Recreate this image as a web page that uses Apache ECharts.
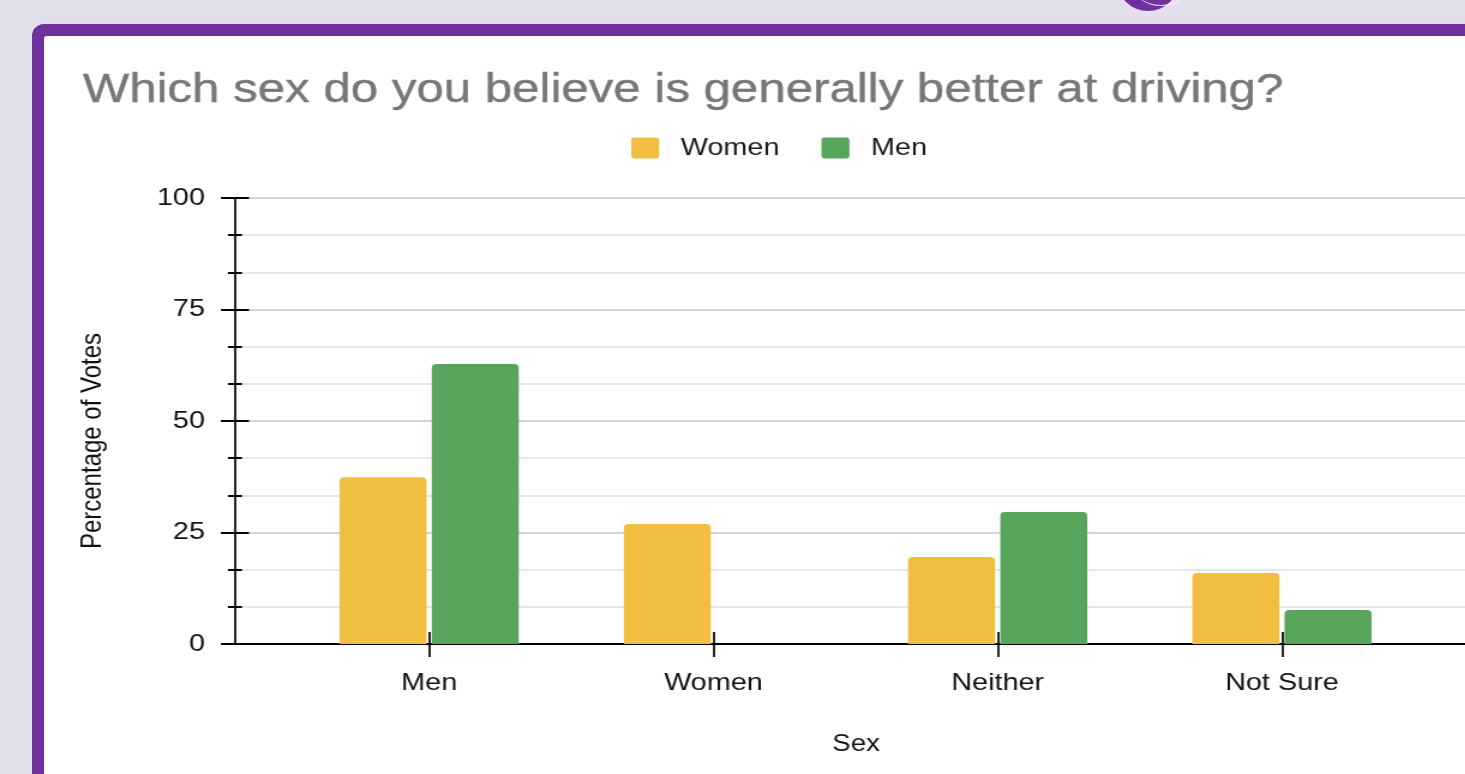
<!DOCTYPE html>
<html>
<head>
<meta charset="utf-8">
<style>
  html, body { margin: 0; padding: 0; background: #e4dfed; overflow: hidden; }
  body { position: relative; width: 1465px; height: 774px; }
  .card-border { position: absolute; left: 32px; top: 24px; width: 1500px; height: 800px;
                 background: #7030a0; border-top-left-radius: 12px; }
  .card { position: absolute; left: 44px; top: 36px; width: 1500px; height: 800px;
          background: #ffffff; border-top-left-radius: 3px; }
  .badge { position: absolute; left: 1117px; top: -51px; width: 62px; height: 62px;
           border-radius: 50%; background: #7030a0; }
  .badge::after { content: ''; position: absolute; left: 14px; top: 8px; width: 60px; height: 48px;
                  border-radius: 50%; border-bottom: 1px solid rgba(255,255,255,0.8); }
  /* chart is laid out narrower and widened horizontally, giving the wide lettering */
  #chart { position: absolute; left: 0; top: 0; width: 1221px; height: 774px;
           transform: scaleX(1.2); transform-origin: 0 0; }
</style>
<script src="https://cdn.jsdelivr.net/npm/echarts@6/dist/echarts.min.js"></script>
</head>
<body>
<div class="card-border"></div>
<div class="card"></div>
<div class="badge"></div>
<div id="chart"></div>
<script>
// Survey: which sex is better at driving, split by respondent sex (percent of votes)
const categories = ['Men', 'Women', 'Neither', 'Not Sure'];
const seriesNames = ['Women', 'Men'];
const womenVotes = [37.4, 26.9, 19.5, 15.9];
const menVotes = [62.8, 0, 29.6, 7.6];
const yTicks = [0, 25, 50, 75, 100];

const FONT = '"Liberation Sans", Arial, Helvetica, sans-serif';
const YELLOW = '#f1be42';
const GREEN = '#57a55a';
// legend swatch: square with slightly rounded corners
const SWATCH = 'path://M3,0H25Q28,0 28,3V22Q28,25 25,25H3Q0,25 0,22V3Q0,0 3,0Z';

const chart = echarts.init(document.getElementById('chart'), null, { renderer: 'canvas' });

const gridTop = 198, gridBottom = 130;
const vLine = 1.7;   // vertical strokes, widened by the stretch

chart.setOption({
  backgroundColor: 'transparent',
  animation: false,
  textStyle: { fontFamily: FONT },
  title: {
    text: 'Which sex do you believe is generally better at driving?',
    left: 64, top: 65,
    textStyle: { fontFamily: FONT, fontSize: 41, fontWeight: 'normal', color: '#777777',
                 textBorderColor: '#777777', textBorderWidth: 0.4 }
  },
  legend: {
    data: seriesNames,
    left: 521, top: 131,
    itemWidth: 23.3, itemHeight: 25, itemGap: 35,
    icon: SWATCH,
    textStyle: { fontFamily: FONT, fontSize: 24, color: '#1a1a1a', padding: [0, 0, 0, 13] }
  },
  grid: [
    // frame grid: axis lines, gridlines, y ticks
    { left: 195.8, right: -9, top: gridTop, bottom: gridBottom, containLabel: false },
    // bar grid: category bands
    { left: 239.2, right: 34.3, top: gridTop, bottom: gridBottom, containLabel: false }
  ],
  xAxis: [
    { type: 'value', gridIndex: 0, min: 0, max: 1, position: 'bottom',
      name: 'Sex', nameLocation: 'middle', nameGap: 89,
      nameTextStyle: { fontFamily: FONT, fontSize: 23, color: '#111111', padding: [0, 0, 0, 10] },
      axisLine: { show: true, lineStyle: { color: '#000', width: 2 } },
      axisTick: { show: false }, axisLabel: { show: false }, splitLine: { show: false } },
    { type: 'category', gridIndex: 1, data: categories, boundaryGap: true, position: 'bottom',
      axisLine: { show: false },
      axisTick: { show: true, alignWithLabel: true, length: 13, lineStyle: { color: '#000', width: vLine } },
      axisLabel: { fontFamily: FONT, fontSize: 24, color: '#111111', margin: 27 },
      splitLine: { show: false } },
    { type: 'category', gridIndex: 1, data: categories, boundaryGap: true, position: 'bottom',
      axisLine: { show: false },
      axisTick: { show: true, inside: true, alignWithLabel: true, length: 12, lineStyle: { color: '#000', width: vLine } },
      axisLabel: { show: false }, splitLine: { show: false } }
  ],
  yAxis: [
    { type: 'value', gridIndex: 0, min: yTicks[0], max: yTicks[yTicks.length - 1], interval: 25, position: 'left',
      name: 'Percentage of Votes', nameLocation: 'middle', nameGap: 106,
      nameTextStyle: { fontFamily: FONT, fontSize: 24, color: '#111111', padding: [0, 40, 0, 0] },
      axisLine: { show: true, lineStyle: { color: '#000', width: vLine } },
      axisTick: { show: true, length: 11.7, lineStyle: { color: '#000', width: 2 } },
      minorTick: { show: true, splitNumber: 3, length: 5.8, lineStyle: { color: '#000', width: 2 } },
      axisLabel: { fontFamily: FONT, fontSize: 24, color: '#111111', margin: 25 },
      splitLine: { show: true, lineStyle: { color: '#d4d4d4', width: 2 } },
      minorSplitLine: { show: true, lineStyle: { color: '#e6e6e6', width: 2 } } },
    { type: 'value', gridIndex: 0, min: 0, max: 100, interval: 25, position: 'left',
      axisLine: { show: false },
      axisTick: { show: true, inside: true, length: 11.7, lineStyle: { color: '#000', width: 2 } },
      minorTick: { show: true, splitNumber: 3, length: 5.8, lineStyle: { color: '#000', width: 2 } },
      axisLabel: { show: false }, splitLine: { show: false } },
    { type: 'value', gridIndex: 1, min: 0, max: 100, show: false }
  ],
  series: [
    { name: seriesNames[0], type: 'bar', xAxisIndex: 1, yAxisIndex: 2, data: womenVotes,
      barWidth: 72.5, barGap: '6%',
      itemStyle: { color: YELLOW, borderRadius: [4, 4, 0, 0] } },
    { name: seriesNames[1], type: 'bar', xAxisIndex: 1, yAxisIndex: 2, data: menVotes,
      barWidth: 72.5, barGap: '6%',
      itemStyle: { color: GREEN, borderRadius: [4, 4, 0, 0] } }
  ]
});
</script>
</body>
</html>
